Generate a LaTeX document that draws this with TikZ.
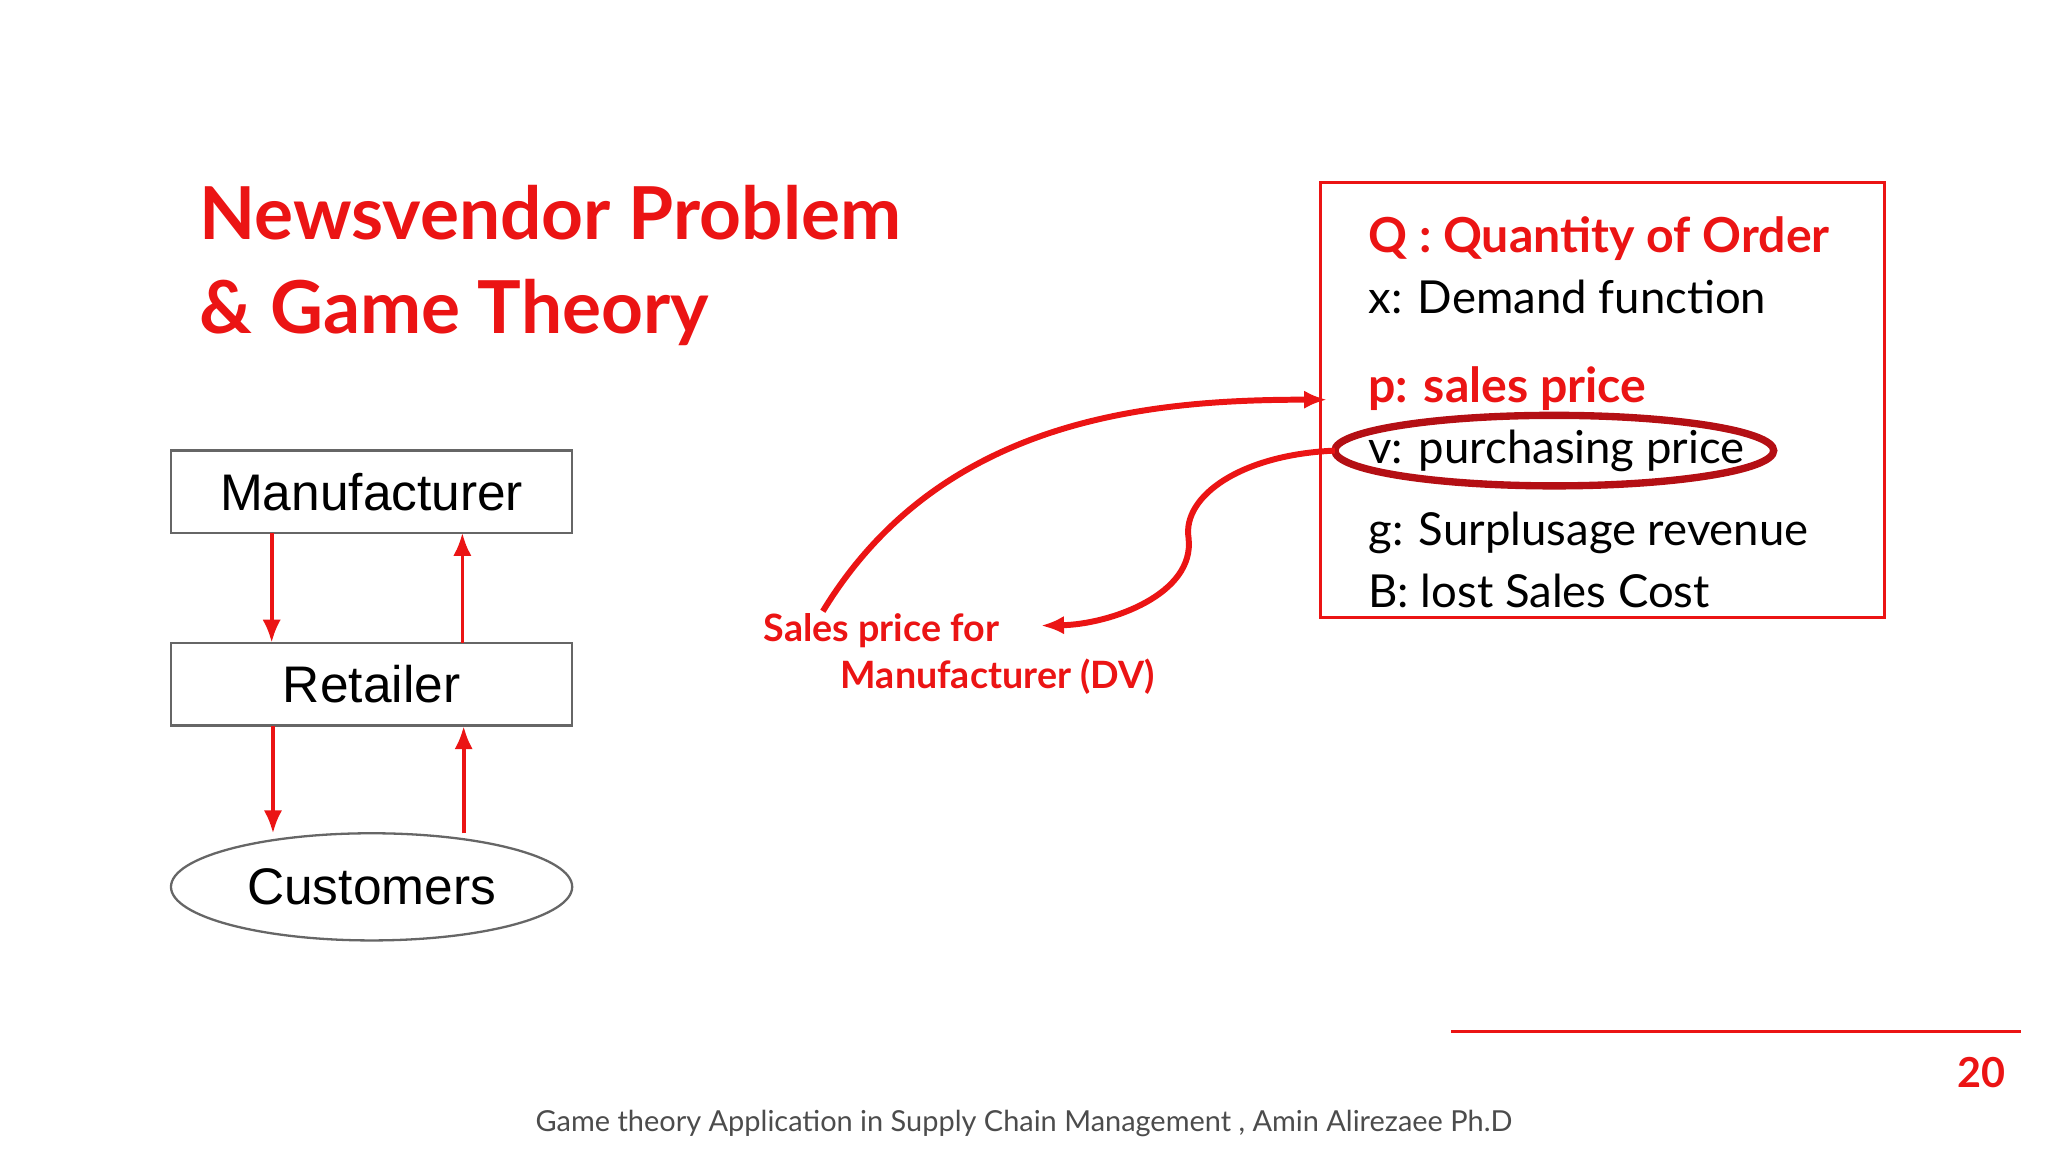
\documentclass[tikz,border=0pt]{standalone}
\usepackage{fontspec}
\setmainfont{Lato}
\newfontfamily\arialf{Liberation Sans}
\usetikzlibrary{arrows.meta,shapes.geometric}
\definecolor{myred}{RGB}{235,20,20}
\definecolor{dred}{RGB}{180,15,20}
\tikzset{
 x=0.01cm,y=-0.01cm,
 box/.style={draw=gray!80!black,line width=0.5pt,minimum width=3.07cm,minimum height=0.63cm,font=\arialf\fontsize{11.2}{13}\selectfont},
 arr/.style={myred,line width=0.8pt,-{Latex[length=5pt,width=4pt]}},
 rt/.style={anchor=base west,inner sep=0pt,font=\fontsize{9.9}{12}\selectfont},
 rtb/.style={rt,myred,font=\fontsize{10.5}{12}\selectfont\bfseries},
 ttl/.style={anchor=base west,inner sep=0pt,myred,font=\fontsize{15.9}{19}\selectfont\bfseries},
 lbl/.style={anchor=base west,inner sep=0pt,myred,font=\fontsize{8.2}{10}\selectfont\bfseries},
}
\begin{document}
\begin{tikzpicture}
\useasboundingbox (0,0) rectangle (1568,882);
\node[ttl] (t1) at (152,183) {Newsvendor Problem};
\node[ttl] (t2) at (152,255) {\& Game Theory};
\node[box] (m) at (284.5,376.5) {Manufacturer};
\node[box] (r) at (284.5,524) {Retailer};
\node[draw=gray!80!black,line width=0.5pt,ellipse,minimum width=3.07cm,minimum height=0.82cm,inner sep=0pt,font=\arialf\fontsize{11.2}{13}\selectfont] (c) at (284.5,679) {Customers};
\coordinate (a1) at (208,408); \coordinate (a2) at (208,492);
\coordinate (b1) at (354,492); \coordinate (b2) at (354,408);
\coordinate (c1) at (209,556); \coordinate (c2) at (209,638);
\coordinate (d1) at (355,638); \coordinate (d2) at (355,556);
\draw[arr] (a1) -- (a2); \draw[arr] (b1) -- (b2);
\draw[arr] (c1) -- (c2); \draw[arr] (d1) -- (d2);
\draw[myred,line width=0.6pt] (1011,140) rectangle (1443,473);
\node[rtb] (q) at (1047,193) {Q : Quantity of Order};
\node[rt] (x) at (1047,240) {x: Demand function};
\node[rtb] (p) at (1047,308) {p: sales price};
\node[rt] (v) at (1047,355) {v: purchasing price};
\node[rt] (g) at (1047,418) {g: Surplusage revenue};
\node[rt] (bb) at (1047,465) {B: lost Sales Cost};
\draw[dred,line width=1.6pt] (1190,345) ellipse [x radius=168, y radius=27];
\node[lbl] (s1) at (584,491) {Sales price for};
\node[lbl] (s2) at (643,527) {Manufacturer (DV)};
\coordinate (e1) at (630,468); \coordinate (e2) at (1016,306);
\draw[arr,line width=1.3pt] (e1) .. controls (720,320) and (880,306) .. (e2);
\coordinate (f1) at (1022,345); \coordinate (f2) at (910,412); \coordinate (f3) at (797,479);
\draw[arr,line width=1.3pt] (f1) .. controls (950,348) and (905,380) .. (f2) .. controls (915,455) and (850,478) .. (f3);
\draw[myred,line width=0.6pt] (1111,790) -- (1547,790);
\node[myred,font=\fontsize{9}{11}\selectfont\bfseries] (n) at (1517,821) {20};
\node[gray!60!black,font=\fontsize{6.3}{8}\selectfont] (f) at (784,860) {Game theory Application in Supply Chain Management , Amin Alirezaee Ph.D};
\end{tikzpicture}
\end{document}
